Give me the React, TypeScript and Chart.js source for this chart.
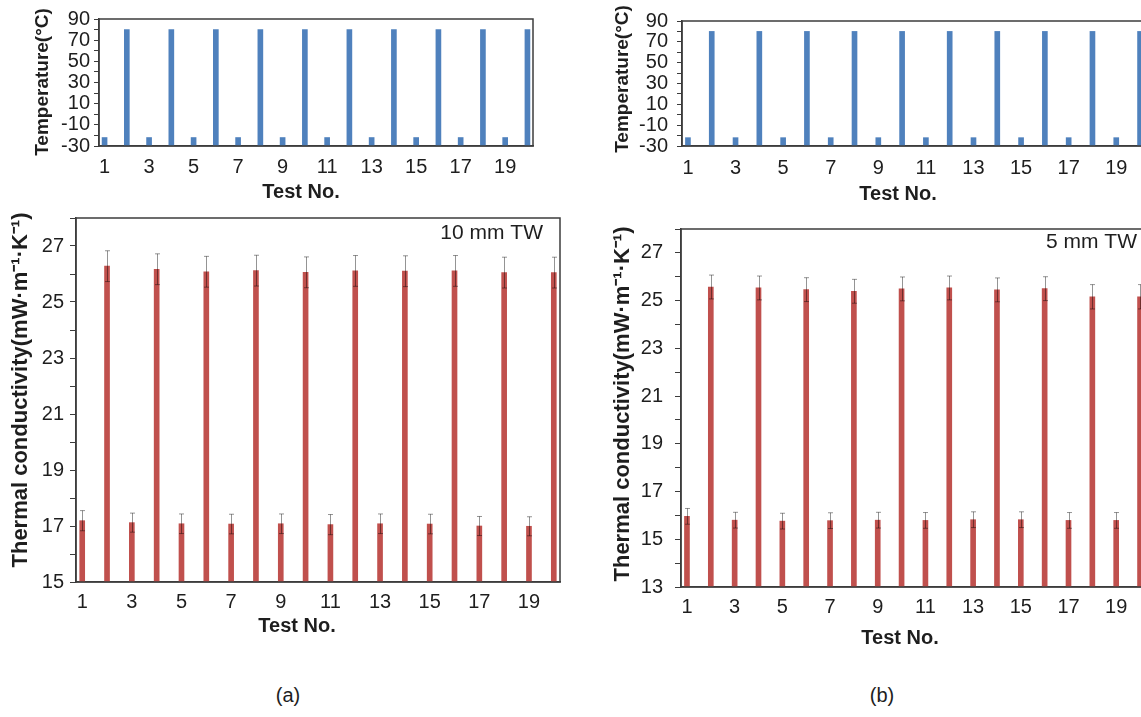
import React, { useEffect, useRef } from 'react';
import { Chart, registerables } from 'chart.js';

Chart.register(...registerables);

// ---------------- data ----------------
const testNo = [1, 2, 3, 4, 5, 6, 7, 8, 9, 10, 11, 12, 13, 14, 15, 16, 17, 18, 19, 20];
const xTickValues = [1, 3, 5, 7, 9, 11, 13, 15, 17, 19];

const tempA = [-22, 80, -22, 80, -22, 80, -22, 80, -22, 80, -22, 80, -22, 80, -22, 80, -22, 80, -22, 80];
const tempB = [-22, 80, -22, 80, -22, 80, -22, 80, -22, 80, -22, 80, -22, 80, -22, 80, -22, 80, -22, 80];
const tempTickLabels = [-30, -10, 10, 30, 50, 70, 90];

const condA = [17.19, 26.28, 17.12, 26.17, 17.08, 26.08, 17.07, 26.12, 17.08, 26.06, 17.05, 26.11, 17.08, 26.1, 17.07, 26.11, 17.0, 26.05, 16.99, 26.05];
const errA = [0.36, 0.55, 0.34, 0.55, 0.35, 0.55, 0.35, 0.55, 0.35, 0.55, 0.36, 0.55, 0.35, 0.55, 0.35, 0.55, 0.34, 0.55, 0.34, 0.55];
const condTickLabelsA = [15, 17, 19, 21, 23, 25, 27];

const condB = [15.96, 25.57, 15.8, 25.53, 15.76, 25.46, 15.78, 25.39, 15.8, 25.49, 15.79, 25.53, 15.82, 25.45, 15.82, 25.5, 15.79, 25.16, 15.79, 25.16];
const errB = [0.33, 0.5, 0.33, 0.5, 0.33, 0.5, 0.33, 0.5, 0.33, 0.5, 0.33, 0.5, 0.33, 0.5, 0.33, 0.5, 0.33, 0.51, 0.33, 0.51];
const condTickLabelsB = [13, 15, 17, 19, 21, 23, 25, 27];

// ---------------- styling ----------------
const FONT = '"Liberation Sans", Arial, sans-serif';
const TEXT = '#1e1e1e';
const AXIS = '#3c3c3c';
const BLUE = '#4f81bd';
const RED = '#c0504d';
const TICK_SIZE = 20;

Chart.defaults.font.family = FONT;
Chart.defaults.color = TEXT;

const errorBarPlugin = {
  id: 'errorBars',
  afterDatasetsDraw(chart: any, _a: any, opts: any) {
    const errs: number[] | undefined = opts && opts.errors;
    if (!errs) return;
    const ctx = chart.ctx;
    const meta = chart.getDatasetMeta(0);
    const ds = chart.data.datasets[0];
    const ys = chart.scales.y;
    ctx.save();
    ctx.strokeStyle = 'rgba(0,0,0,0.42)';
    ctx.lineWidth = 1;
    meta.data.forEach((el: any, i: number) => {
      const v = ds.data[i].y[1];
      const e = errs[i];
      const x = Math.round(el.x) + 0.5;
      const yTop = ys.getPixelForValue(v + e);
      const yBot = ys.getPixelForValue(v - e);
      ctx.beginPath();
      ctx.moveTo(x, yTop);
      ctx.lineTo(x, yBot);
      ctx.moveTo(x - 2.5, yTop);
      ctx.lineTo(x + 2.5, yTop);
      ctx.moveTo(x - 2.5, yBot);
      ctx.lineTo(x + 2.5, yBot);
      ctx.stroke();
    });
    ctx.restore();
  },
};

const framePlugin = {
  id: 'frame',
  afterDraw(chart: any) {
    const { ctx, chartArea: a } = chart;
    ctx.save();
    ctx.strokeStyle = AXIS;
    ctx.lineWidth = 1.5;
    ctx.strokeRect(a.left, a.top, a.right - a.left, a.bottom - a.top);
    ctx.restore();
  },
};

const textPlugin = {
  id: 'texts',
  afterDraw(chart: any, _a: any, opts: any) {
    const items = (opts && opts.items) || [];
    const ox = (opts && opts.left) || 0;
    const oy = (opts && opts.top) || 0;
    const ctx = chart.ctx;
    items.forEach((it: any) => {
      ctx.save();
      ctx.fillStyle = TEXT;
      ctx.font = `${it.bold ? 'bold ' : ''}${it.size}px ${FONT}`;
      ctx.textAlign = it.align || 'center';
      ctx.textBaseline = 'middle';
      ctx.translate(it.x - ox, it.y - oy);
      if (it.rotate) ctx.rotate(-Math.PI / 2);
      ctx.fillText(it.text, 0, 0);
      ctx.restore();
    });
  },
};

type Panel = {
  left: number; top: number; width: number; height: number;
  area: { l: number; t: number; r: number; b: number };
  values: number[]; errors?: number[]; color: string;
  yMin: number; yMax: number; yStep: number; yLabels: number[];
  yPad: number; tickLen: number; xPad: number;
  texts: any[];
};

function buildConfig(p: Panel): any {
  const yW = p.area.l - p.left;
  const xH = p.top + p.height - p.area.b;
  return {
    type: 'bar',
    data: {
      datasets: [
        {
          data: testNo.map((n, i) => ({ x: n, y: [p.yMin, p.values[i]] })),
          backgroundColor: p.color,
          borderWidth: 0,
          barThickness: 5,
        },
      ],
    },
    options: {
      animation: false,
      responsive: false,
      devicePixelRatio: 1,
      events: [],
      layout: { padding: { top: p.area.t - p.top, right: p.left + p.width - p.area.r, left: 0, bottom: 0 } },
      plugins: {
        legend: { display: false },
        tooltip: { enabled: false },
        errorBars: { errors: p.errors },
        texts: { items: p.texts, left: p.left, top: p.top },
      },
      scales: {
        x: {
          type: 'linear',
          min: 0.75,
          max: 20.25,
          offset: false,
          afterBuildTicks: (axis: any) => {
            axis.ticks = xTickValues.map((v) => ({ value: v }));
          },
          afterFit: (s: any) => {
            s.height = xH;
          },
          ticks: {
            autoSkip: false,
            maxRotation: 0,
            padding: p.xPad,
            font: { size: TICK_SIZE },
            color: TEXT,
            callback: (v: any) => String(v),
          },
          grid: { display: false, drawTicks: false, tickLength: 0 },
          border: { display: true, color: AXIS, width: 1.5 },
        },
        y: {
          type: 'linear',
          min: p.yMin,
          max: p.yMax,
          afterFit: (s: any) => {
            s.width = yW;
          },
          ticks: {
            stepSize: p.yStep,
            autoSkip: false,
            padding: p.yPad,
            font: { size: TICK_SIZE },
            color: TEXT,
            callback: (v: any) => (p.yLabels.includes(Number(v)) ? String(v) : ''),
          },
          grid: { display: true, drawOnChartArea: false, drawTicks: true, tickLength: p.tickLen, color: AXIS, lineWidth: 1 },
          border: { display: true, color: AXIS, width: 1.5 },
        },
      },
    },
    plugins: [errorBarPlugin, framePlugin, textPlugin],
  };
}

const panels: Panel[] = [
  {
    left: 0, top: 0, width: 560, height: 205,
    area: { l: 99, t: 19, r: 533, b: 146 },
    values: tempA, color: BLUE,
    yMin: -30, yMax: 90, yStep: 10, yLabels: tempTickLabels,
    yPad: 4, tickLen: 5, xPad: 9,
    texts: [
      { text: 'Temperature(°C)', x: 43, y: 82, size: 19, bold: true, rotate: true },
      { text: 'Test No.', x: 301, y: 192, size: 20, bold: true },
    ],
  },
  {
    left: 0, top: 200, width: 580, height: 460,
    area: { l: 76, t: 212, r: 560, b: 582 },
    values: condA, errors: errA, color: RED,
    yMin: 15, yMax: 28, yStep: 1, yLabels: condTickLabelsA,
    yPad: 6, tickLen: 6, xPad: 8,
    texts: [
      { text: 'Thermal conductivity(mW·m⁻¹·K⁻¹)', x: 21, y: 390, size: 22, bold: true, rotate: true },
      { text: 'Test No.', x: 297, y: 626, size: 20, bold: true },
      { text: '10 mm TW', x: 543, y: 233, size: 21, align: 'right' },
    ],
  },
  {
    left: 590, top: 0, width: 570, height: 205,
    area: { l: 682, t: 11, r: 1146, b: 146 },
    values: tempB, color: BLUE,
    yMin: -30, yMax: 90, yStep: 10, yLabels: tempTickLabels,
    yPad: 9, tickLen: 5, xPad: 10,
    texts: [
      { text: 'Temperature(°C)', x: 623, y: 79, size: 19, bold: true, rotate: true },
      { text: 'Test No.', x: 898, y: 194, size: 20, bold: true },
    ],
  },
  {
    left: 590, top: 205, width: 570, height: 460,
    area: { l: 681, t: 218, r: 1146, b: 587 },
    values: condB, errors: errB, color: RED,
    yMin: 13, yMax: 28, yStep: 1, yLabels: condTickLabelsB,
    yPad: 12, tickLen: 6, xPad: 8,
    texts: [
      { text: 'Thermal conductivity(mW·m⁻¹·K⁻¹)', x: 623, y: 404, size: 22, bold: true, rotate: true },
      { text: 'Test No.', x: 900, y: 638, size: 20, bold: true },
      { text: '5 mm TW', x: 1137, y: 242, size: 21, align: 'right' },
    ],
  },
];

function ChartBox({ panel }: { panel: Panel }) {
  const ref = useRef<HTMLCanvasElement>(null);
  useEffect(() => {
    if (!ref.current) return;
    const chart = new Chart(ref.current, buildConfig(panel));
    return () => chart.destroy();
  }, [panel]);
  return (
    <canvas
      ref={ref}
      width={panel.width}
      height={panel.height}
      style={{ position: 'absolute', left: panel.left, top: panel.top, width: panel.width, height: panel.height }}
    />
  );
}

export default function App() {
  return (
    <div
      style={{
        position: 'absolute',
        left: 0,
        top: 0,
        width: 1141,
        height: 717,
        overflow: 'hidden',
        background: '#ffffff',
        fontFamily: FONT,
      }}
    >
      {panels.map((p, i) => (
        <ChartBox key={i} panel={p} />
      ))}
      <div style={{ position: 'absolute', left: 258, top: 684, width: 60, textAlign: 'center', fontSize: 20, color: TEXT }}>(a)</div>
      <div style={{ position: 'absolute', left: 852, top: 684, width: 60, textAlign: 'center', fontSize: 20, color: TEXT }}>(b)</div>
    </div>
  );
}
